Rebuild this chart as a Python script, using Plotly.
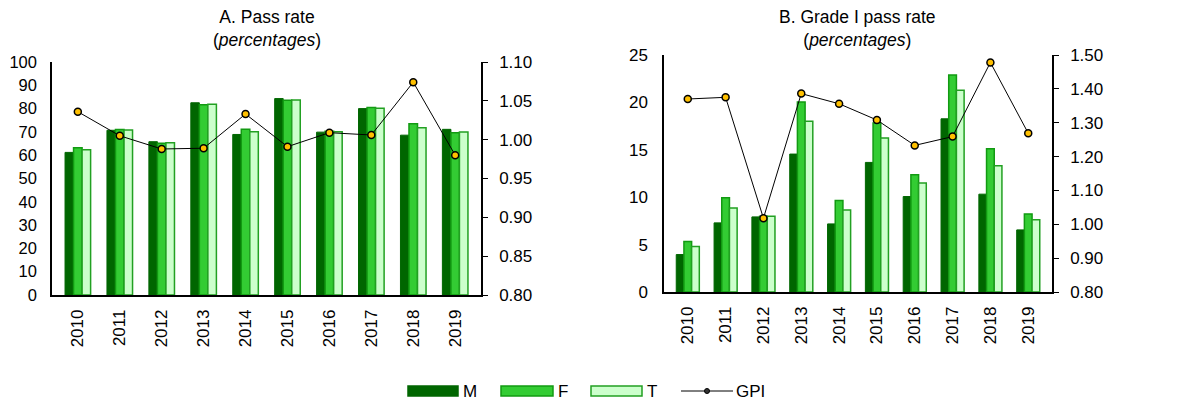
import plotly.graph_objects as go
from plotly.subplots import make_subplots

years = ['2010', '2011', '2012', '2013', '2014', '2015', '2016', '2017', '2018', '2019']

# A. Pass rate (percentages)
pass_m = [61.2, 70.7, 65.8, 82.5, 68.9, 84.3, 69.9, 80.0, 68.6, 71.1]
pass_f = [63.2, 71.0, 65.1, 81.6, 71.1, 83.6, 70.3, 80.5, 73.5, 69.6]
pass_t = [62.3, 70.8, 65.3, 81.9, 70.1, 83.7, 70.1, 80.2, 71.8, 70.0]
pass_gpi = [1.036, 1.005, 0.988, 0.989, 1.033, 0.991, 1.009, 1.006, 1.074, 0.980]

# B. Grade I pass rate (percentages)
grade_m = [3.95, 7.29, 7.92, 14.55, 7.18, 13.67, 10.07, 18.27, 10.32, 6.55]
grade_f = [5.32, 9.93, 8.0, 20.04, 9.65, 17.82, 12.36, 22.89, 15.1, 8.24]
grade_t = [4.79, 8.87, 8.0, 18.0, 8.66, 16.24, 11.51, 21.27, 13.31, 7.61]
grade_gpi = [1.370, 1.375, 1.018, 1.386, 1.356, 1.308, 1.233, 1.259, 1.478, 1.269]

legend_names = ['M', 'F', 'T', 'GPI']

FONT = 'Liberation Sans, Arial, sans-serif'
TICK = 17
M_COL, M_LINE = '#006600', '#006600'
F_COL, F_LINE = '#33CC33', '#129A12'
T_COL, T_LINE = '#CCFFCC', '#22A022'

fig = make_subplots(rows=1, cols=2, specs=[[{'secondary_y': True}, {'secondary_y': True}]])


def add_panel(col, m, f, t, gpi):
    fig.add_trace(go.Bar(x=years, y=m, name='M', marker=dict(color=M_COL, line=dict(color=M_LINE, width=1))),
                  row=1, col=col, secondary_y=False)
    fig.add_trace(go.Bar(x=years, y=f, name='F', marker=dict(color=F_COL, line=dict(color=F_LINE, width=1.5))),
                  row=1, col=col, secondary_y=False)
    fig.add_trace(go.Bar(x=years, y=t, name='T', marker=dict(color=T_COL, line=dict(color=T_LINE, width=1.5))),
                  row=1, col=col, secondary_y=False)
    fig.add_trace(go.Scatter(x=years, y=gpi, name='GPI', mode='lines+markers',
                             line=dict(color='black', width=1),
                             marker=dict(size=7, color='#FFC000', line=dict(color='black', width=1.5))),
                  row=1, col=col, secondary_y=True)


add_panel(1, pass_m, pass_f, pass_t, pass_gpi)
add_panel(2, grade_m, grade_f, grade_t, grade_gpi)

# page body has an 8px margin, so the figure is drawn 8px in from the window corner
OFF = 8
W, H = 1185 - OFF, 403 - OFF


def px(x):
    return (x - OFF) / W


def py(y):
    return 1 - (y - OFF) / H


xcommon = dict(showline=True, linecolor='black', linewidth=1.5, ticks='', tickangle=-90,
               tickmode='array', tickvals=years, ticktext=years, ticklabelstandoff=6,
               tickfont=dict(size=TICK, color='black', family=FONT), automargin=False, showgrid=False)
fig.update_layout(
    xaxis=dict(domain=[px(52), px(481)], **xcommon),
    xaxis2=dict(domain=[px(664), px(1052)], **xcommon),
)

ycommon = dict(showline=True, linecolor='black', linewidth=1.5, showgrid=False, zeroline=False,
               automargin=False)
ldom = [py(295), py(62)]
rdom = [py(292), py(55)]
fig.update_layout(
    yaxis=dict(domain=ldom, range=[0, 100], dtick=10, ticks='', ticklabelstandoff=10,
               tickfont=dict(size=16.5, color='black', family=FONT), **ycommon),
    yaxis2=dict(domain=ldom, range=[0.8, 1.1], dtick=0.05, tickformat='.2f', ticks='outside', ticklen=5,
                ticklabelstandoff=8, tickcolor='black', side='right', overlaying='y',
                tickfont=dict(size=TICK, color='black', family=FONT), **ycommon),
    yaxis3=dict(domain=rdom, range=[0, 25], dtick=5, ticks='', ticklabelstandoff=11,
                tickfont=dict(size=TICK, color='black', family=FONT), **ycommon),
    yaxis4=dict(domain=rdom, range=[0.8, 1.5], dtick=0.1, tickformat='.2f', ticks='outside', ticklen=5,
                ticklabelstandoff=8, tickcolor='black', side='right', overlaying='y3',
                tickfont=dict(size=TICK, color='black', family=FONT), **ycommon),
)

fig.add_annotation(text='A. Pass rate<br>(<i>percentages</i>)', x=px((52 + 481) / 2), y=py(5),
                   xref='paper', yref='paper', xanchor='center', yanchor='top', showarrow=False,
                   font=dict(size=17.5, color='black', family=FONT))
fig.add_annotation(text='B. Grade I pass rate<br>(<i>percentages</i>)', x=px((664 + 1052) / 2), y=py(5),
                   xref='paper', yref='paper', xanchor='center', yanchor='top', showarrow=False,
                   font=dict(size=17.5, color='black', family=FONT))

# hand-drawn legend with wide swatches
ly = 391
swatches = [(408, 458, M_COL, M_LINE), (501, 553, F_COL, F_LINE), (591, 642, T_COL, T_LINE)]
for (x0, x1, fc, lc), name in zip(swatches, legend_names[:3]):
    fig.add_shape(type='rect', xref='paper', yref='paper', x0=px(x0), x1=px(x1), y0=py(ly + 5), y1=py(ly - 5),
                  fillcolor=fc, line=dict(color=lc, width=1.5))
    fig.add_annotation(text=name, x=px(x1 + 3), y=py(ly), xref='paper', yref='paper', xanchor='left',
                       yanchor='middle', showarrow=False, font=dict(size=TICK, color='black', family=FONT))
fig.add_shape(type='line', xref='paper', yref='paper', x0=px(681), x1=px(733), y0=py(ly), y1=py(ly),
              line=dict(color='black', width=1))
fig.add_shape(type='circle', xref='paper', yref='paper', x0=px(704.5), x1=px(709.5), y0=py(ly + 2.5),
              y1=py(ly - 2.5), fillcolor='#333333', line=dict(color='black', width=1))
fig.add_annotation(text=legend_names[3], x=px(734), y=py(ly), xref='paper', yref='paper', xanchor='left',
                   yanchor='middle', showarrow=False, font=dict(size=TICK, color='black', family=FONT))

fig.update_layout(
    width=W, height=H, template='none', showlegend=False,
    margin=dict(l=0, r=0, t=0, b=0),
    plot_bgcolor='white', paper_bgcolor='white',
    barmode='group', bargap=0.39, bargroupgap=0,
    font=dict(family=FONT, size=TICK, color='black'),
)

fig.write_html('out.html')
